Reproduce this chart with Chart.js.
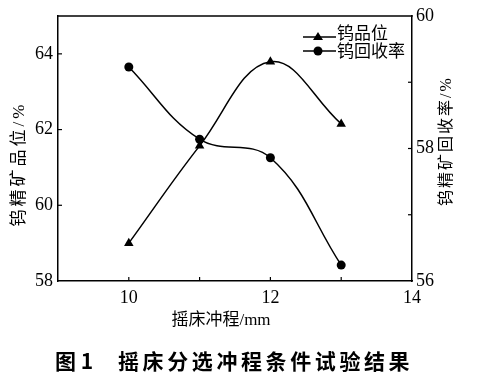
<!DOCTYPE html>
<html><head><meta charset="utf-8">
<script src="https://cdn.jsdelivr.net/npm/chart.js@4"></script>
<style>html,body{margin:0;padding:0;background:#fff}#wrap{width:487px;height:377px;position:relative}</style>
</head><body><div id="wrap"><canvas id="c" width="487" height="377"></canvas></div>
<script>
const strokes = [10, 11, 12, 13];
const gradeValues = [59.0, 61.57, 63.79, 62.15];
const recoveryValues = [59.23, 58.14, 57.86, 56.24];
const xTickValues = [10, 11, 12, 13];
const xTickLabels = [10, 12, 14];
const leftTickValues = [60, 62, 64];
const leftTickLabels = [58, 60, 62, 64];
const rightTickValues = [57, 58, 59];
const rightTickLabels = [56, 58, 60];
const seriesNames = ['钨品位', '钨回收率'];
const xTitle = '摇床冲程/mm';
const leftTitle = '钨精矿品位/%';
const rightTitle = '钨精矿回收率/%';
const captionNum = '图 1';
const captionText = '摇床分选冲程条件试验结果';

const SERIF = '"Liberation Serif","Noto Sans CJK SC"';

const decor = {
  id: 'decor',
  afterDraw(chart) {
    const ctx = chart.ctx, ca = chart.chartArea;
    const sx = chart.scales.x, sl = chart.scales.yL, sr = chart.scales.yR;
    ctx.save();
    ctx.strokeStyle = '#000'; ctx.fillStyle = '#000'; ctx.lineWidth = 1.5;
    ctx.beginPath(); ctx.moveTo(ca.left - 0.75, ca.top); ctx.lineTo(ca.right + 0.75, ca.top); ctx.stroke();
    ctx.lineWidth = 1.2;
    xTickValues.forEach(v => { const p = sx.getPixelForValue(v); ctx.beginPath(); ctx.moveTo(p, ca.bottom); ctx.lineTo(p, ca.bottom - 4); ctx.stroke(); });
    leftTickValues.forEach(v => { const p = sl.getPixelForValue(v); ctx.beginPath(); ctx.moveTo(ca.left, p); ctx.lineTo(ca.left + 4, p); ctx.stroke(); });
    rightTickValues.forEach(v => { const p = sr.getPixelForValue(v); ctx.beginPath(); ctx.moveTo(ca.right, p); ctx.lineTo(ca.right - 4, p); ctx.stroke(); });

    ctx.textBaseline = 'middle';
    // left title
    ctx.save(); ctx.translate(20, 164); ctx.rotate(-Math.PI / 2);
    ctx.font = '17px ' + SERIF; ctx.textAlign = 'center'; ctx.letterSpacing = '3px';
    ctx.fillText(leftTitle, 0, 0); ctx.restore();
    // right title
    ctx.save(); ctx.translate(447, 141); ctx.rotate(-Math.PI / 2);
    ctx.font = '16px ' + SERIF; ctx.textAlign = 'center'; ctx.letterSpacing = '2px';
    ctx.fillText(rightTitle, 0, 0); ctx.restore();
    // x title
    ctx.font = '17px ' + SERIF; ctx.textAlign = 'center';
    ctx.fillText(xTitle, 221, 321);
    // caption
    ctx.font = 'bold 21px "Noto Sans CJK SC"'; ctx.textAlign = 'left';
    ctx.fillText(captionNum, 55, 361);
    ctx.save(); ctx.letterSpacing = '3.6px'; ctx.fillText(captionText, 118, 361); ctx.restore();
    // legend
    const rows = [{y: 37, ty: 35, style: 'triangle'}, {y: 51, ty: 53, style: 'circle'}];
    ctx.font = '17px ' + SERIF; ctx.textAlign = 'left';
    rows.forEach((r, i) => {
      ctx.lineWidth = 1.5;
      ctx.beginPath(); ctx.moveTo(303, r.y); ctx.lineTo(336, r.y); ctx.stroke();
      if (r.style === 'circle') { ctx.beginPath(); ctx.arc(318, r.y, 4.5, 0, Math.PI * 2); ctx.fill(); }
      else { ctx.beginPath(); ctx.moveTo(318, r.y - 5); ctx.lineTo(323, r.y + 3); ctx.lineTo(313, r.y + 3); ctx.closePath(); ctx.fill(); }
      ctx.fillText(seriesNames[i], 337, r.ty);
    });
    ctx.restore();
  }
};

new Chart(document.getElementById('c'), {
  type: 'line',
  data: {
    datasets: [
      { label: seriesNames[0], data: strokes.map((x, i) => ({x, y: gradeValues[i]})), yAxisID: 'yL',
        borderColor: '#000', backgroundColor: '#000', borderWidth: 1.5, tension: 0.4,
        pointStyle: 'triangle', pointRadius: 5.5, pointBorderWidth: 0 },
      { label: seriesNames[1], data: strokes.map((x, i) => ({x, y: recoveryValues[i]})), yAxisID: 'yR',
        borderColor: '#000', backgroundColor: '#000', borderWidth: 1.5, tension: 0.4,
        pointStyle: 'circle', pointRadius: 4.5, pointBorderWidth: 0 }
    ]
  },
  options: {
    responsive: false, animation: false, devicePixelRatio: 1,
    layout: { padding: { top: 16, left: 0, right: 0, bottom: 0 } },
    plugins: { legend: { display: false }, tooltip: { enabled: false } },
    scales: {
      x: { type: 'linear', position: 'bottom', min: 9, max: 14,
        ticks: { stepSize: 1, autoSkip: false, maxRotation: 0, color: '#000', padding: 6,
          font: { family: 'Liberation Serif', size: 18 },
          callback: v => xTickLabels.includes(v) ? String(v) : '' },
        grid: { display: false, drawTicks: false },
        border: { display: true, color: '#000', width: 1.5 },
        afterFit(s) { s.height = 96; } },
      yL: { type: 'linear', position: 'left', min: 58, max: 65,
        ticks: { stepSize: 2, autoSkip: false, color: '#000', padding: 5,
          font: { family: 'Liberation Serif', size: 18 },
          callback: v => leftTickLabels.includes(v) ? String(v) : '' },
        grid: { display: false, drawTicks: false },
        border: { display: true, color: '#000', width: 1.5 },
        afterFit(s) { s.width = 58; } },
      yR: { type: 'linear', position: 'right', min: 56, max: 60,
        ticks: { stepSize: 1, autoSkip: false, color: '#000', padding: 4,
          font: { family: 'Liberation Serif', size: 18 },
          callback: v => rightTickLabels.includes(v) ? String(v) : '' },
        grid: { display: false, drawTicks: false },
        border: { display: true, color: '#000', width: 1.5 },
        afterFit(s) { s.width = 75; } }
    }
  },
  plugins: [decor]
});
</script></body></html>
